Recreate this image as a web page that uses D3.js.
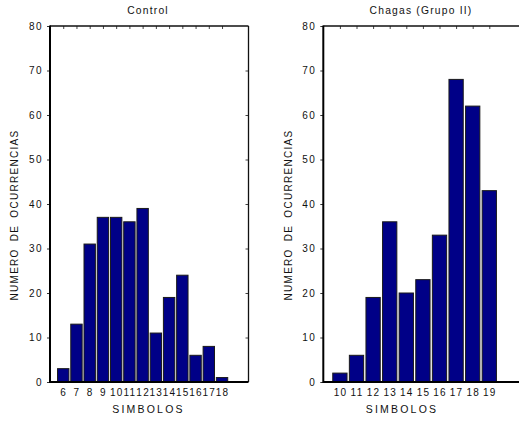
<!DOCTYPE html>
<html><head><meta charset="utf-8">
<script src="https://cdn.jsdelivr.net/npm/d3@7"></script>
<style>
html,body{margin:0;padding:0;background:#fff;}
svg{display:block;font-family:"Liberation Sans",Arial,sans-serif;}
</style></head>
<body>
<svg id="chart" width="519" height="423"></svg>
<script>
const controlCats = [6,7,8,9,10,11,12,13,14,15,16,17,18];
const controlValues = [3,13,31,37,37,36,39,11,19,24,6,8,1];
const chagasCats = [10,11,12,13,14,15,16,17,18,19];
const chagasValues = [2,6,19,36,20,23,33,68,62,43];
const yTickValues = [0,10,20,30,40,50,60,70,80];
const titles = ["Control","Chagas (Grupo II)"];
const xLabel = "SIMBOLOS";
const yLabel = "NUMERO DE OCURRENCIAS";

const svg = d3.select("#chart");
const plotTop = 26, plotBottom = 382;
const y = d3.scaleLinear().domain([0,80]).range([plotBottom, plotTop]);

function panel(cfg){
  const g = svg.append("g");
  const x = d3.scaleLinear().domain(cfg.domain).range([cfg.left, cfg.right]);
  const step = x(1) - x(0);
  const bw = step * 0.86;
  g.selectAll("rect.bar").data(cfg.cats.map((c,i)=>({c, v: cfg.values[i]})))
    .enter().append("rect")
    .attr("x", d => x(d.c) - bw/2)
    .attr("y", d => y(d.v))
    .attr("width", bw)
    .attr("height", d => y(0) - y(d.v))
    .attr("fill", "#000087")
    .attr("stroke", "#1a1a1a")
    .attr("stroke-width", 1);
  const ya = g.append("g").attr("transform", `translate(${cfg.left},0)`)
    .call(d3.axisLeft(y).tickValues(yTickValues).tickSize(3).tickPadding(4));
  ya.select(".domain").remove();
  ya.selectAll("text").attr("font-size", 10).attr("letter-spacing", 1.4)
    .attr("fill", "#111").attr("font-family", "Liberation Sans, Arial, sans-serif");
  ya.selectAll("line").attr("stroke", "#333");
  const ra = g.append("g").attr("transform", `translate(${cfg.right},0)`)
    .call(d3.axisRight(y).tickValues(yTickValues.slice(1,-1)).tickSize(-3).tickFormat(""));
  ra.select(".domain").remove();
  ra.selectAll("line").attr("stroke", "#444");
  const ta = g.append("g").attr("transform", `translate(0,${plotTop})`)
    .call(d3.axisTop(x).tickValues(cfg.cats).tickSize(-3).tickFormat(""));
  ta.select(".domain").remove();
  ta.selectAll("line").attr("stroke", "#444");
  const ba = g.append("g").attr("transform", `translate(0,${plotBottom})`)
    .call(d3.axisBottom(x).tickValues(cfg.cats).tickSize(0).tickPadding(7).tickFormat(d3.format("d")));
  ba.select(".domain").remove();
  ba.selectAll("text").attr("font-size", 10).attr("letter-spacing", 1.2)
    .attr("fill", "#111").attr("font-family", "Liberation Sans, Arial, sans-serif");
  g.append("line").attr("x1", cfg.left).attr("x2", cfg.right).attr("y1", plotTop).attr("y2", plotTop)
    .attr("stroke", "#111").attr("stroke-width", 1.3);
  g.append("line").attr("x1", cfg.right).attr("x2", cfg.right).attr("y1", plotTop).attr("y2", plotBottom)
    .attr("stroke", "#111").attr("stroke-width", 1.3);
  g.append("line").attr("x1", cfg.left).attr("x2", cfg.right).attr("y1", plotBottom).attr("y2", plotBottom)
    .attr("stroke", "#000").attr("stroke-width", 2);
  g.append("line").attr("x1", cfg.left).attr("x2", cfg.left).attr("y1", plotTop-0.5).attr("y2", plotBottom+1)
    .attr("stroke", "#000").attr("stroke-width", 2);
  g.append("text").attr("x", cfg.titleX).attr("y", 13.5).attr("text-anchor","middle")
    .attr("font-size", 10.3).attr("letter-spacing", 1.2).attr("fill","#111").text(cfg.title);
  g.append("text").attr("x", cfg.xLabelX).attr("y", 413).attr("text-anchor","middle")
    .attr("font-size", 10.5).attr("letter-spacing", 2.2).attr("fill","#111").text(xLabel);
  g.append("text").attr("transform", `translate(${cfg.yLabelX},${cfg.yLabelY}) rotate(-90)`)
    .attr("text-anchor","middle").attr("font-size", 10).attr("letter-spacing", 1.3)
    .attr("word-spacing", 3).attr("fill","#111").text(yLabel);
}

panel({cats: controlCats, values: controlValues, domain:[5,20], left:50, right:248.5,
  title: titles[0], titleX: 148, xLabelX: 148.5, yLabelX: 18, yLabelY: 215});
panel({cats: chagasCats, values: chagasValues, domain:[9,21], left:323.3, right:522.5,
  title: titles[1], titleX: 421, xLabelX: 402, yLabelX: 292, yLabelY: 215});
</script>
</body></html>
